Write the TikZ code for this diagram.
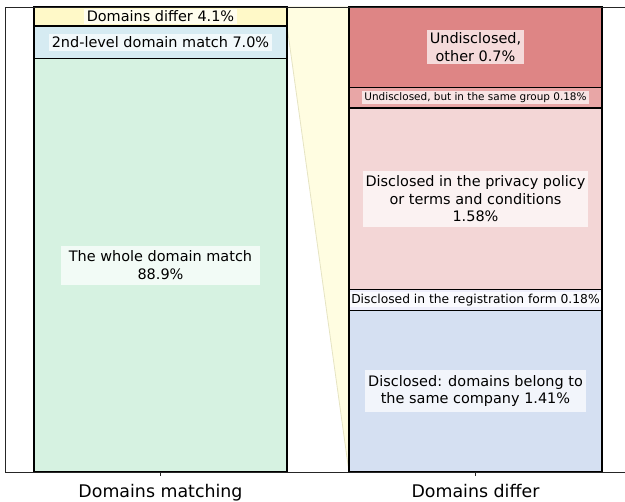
\documentclass[tikz,border=0pt]{standalone}
\usepackage{fontspec}
\setmainfont{DejaVu Sans}
\definecolor{cdiffer}{HTML}{FFF9C8}
\definecolor{csecond}{HTML}{D6EBF2}
\definecolor{cwhole}{HTML}{D6F2E1}
\definecolor{cother}{HTML}{DE8585}
\definecolor{cgroup}{HTML}{E8A6A6}
\definecolor{cpriv}{HTML}{F3D6D6}
\definecolor{creg}{HTML}{EFEFFC}
\definecolor{ccomp}{HTML}{D5E0F2}
\definecolor{cwedge}{HTML}{FFFDE1}
\definecolor{cwedgeline}{HTML}{E6E4C3}
\begin{document}
\begin{tikzpicture}[x=1pt,y=-1pt,
  seg/.style={draw=black, line width=1.2pt},
  lab/.style={fill=white, fill opacity=0.7, text opacity=1, inner xsep=3pt, inner ysep=3pt, align=center,
    font=\fontsize{14.45}{17.4}\selectfont},
  slab/.style={lab, inner xsep=2.5pt, inner ysep=1.5pt, font=\fontsize{10.45}{12}\selectfont},
  mlab/.style={lab, inner xsep=1.5pt, inner ysep=1.5pt, font=\fontsize{12.3}{14}\selectfont},
  axlab/.style={font=\fontsize{17.4}{20}\selectfont, anchor=base}]
\useasboundingbox (0,0) rectangle (625,502);
\clip (0,0) rectangle (625,502);
% wedge
\draw[fill=cwedge, draw=cwedgeline, line width=0.8pt] (287,7) -- (349,7) -- (349,472) -- (287,26) -- cycle;
% left bar
\draw[seg, fill=cdiffer] (34,7) rectangle (287,26);
\draw[seg, fill=csecond] (34,26) rectangle (287,58.6);
\draw[seg, fill=cwhole] (34,58.6) rectangle (287,472);
% right bar
\draw[seg, fill=cother] (349,7) rectangle (602,87.4);
\draw[seg, fill=cgroup] (349,87.4) rectangle (602,108.1);
\draw[seg, fill=cpriv] (349,108.1) rectangle (602,289.5);
\draw[seg, fill=creg] (349,289.5) rectangle (602,310.2);
\draw[seg, fill=ccomp] (349,310.2) rectangle (602,472);
% frame
\draw[line width=0.9pt, black!85] (640,7) -- (5.5,7) -- (5.5,472) -- (640,472);
\draw[line width=0.9pt, black!85] (160.5,472) -- (160.5,476.5);
\draw[line width=0.9pt, black!85] (475.5,472) -- (475.5,476.5);
% labels
\node[lab, inner ysep=1.5pt] (ldiffer) at (160.5,16.5) {Domains differ 4.1\%};
\node[lab] (lsecond) at (160.5,42.3) {2nd-level domain match 7.0\%};
\node[lab, inner xsep=8pt, inner ysep=5pt] (lwhole) at (160.5,265.3) {The whole domain match\\88.9\%};
\node[lab] (lother) at (475.5,47.2) {Undisclosed,\\other 0.7\%};
\node[slab] (lgroup) at (475.5,97.8) {Undisclosed, but in the same group 0.18\%};
\node[lab, inner ysep=5pt] (lpriv) at (475.5,198.8) {Disclosed in the privacy policy\\or terms and conditions\\1.58\%};
\node[mlab] (lreg) at (475.5,299.9) {Disclosed in the registration form 0.18\%};
\node[lab, inner ysep=5pt] (lcomp) at (475.5,391.1) {Disclosed: domains belong to\\the same company 1.41\%};
\node[axlab] (xl1) at (160.5,498) {Domains matching};
\node[axlab] (xl2) at (475.5,498) {Domains differ};
\end{tikzpicture}
\end{document}
